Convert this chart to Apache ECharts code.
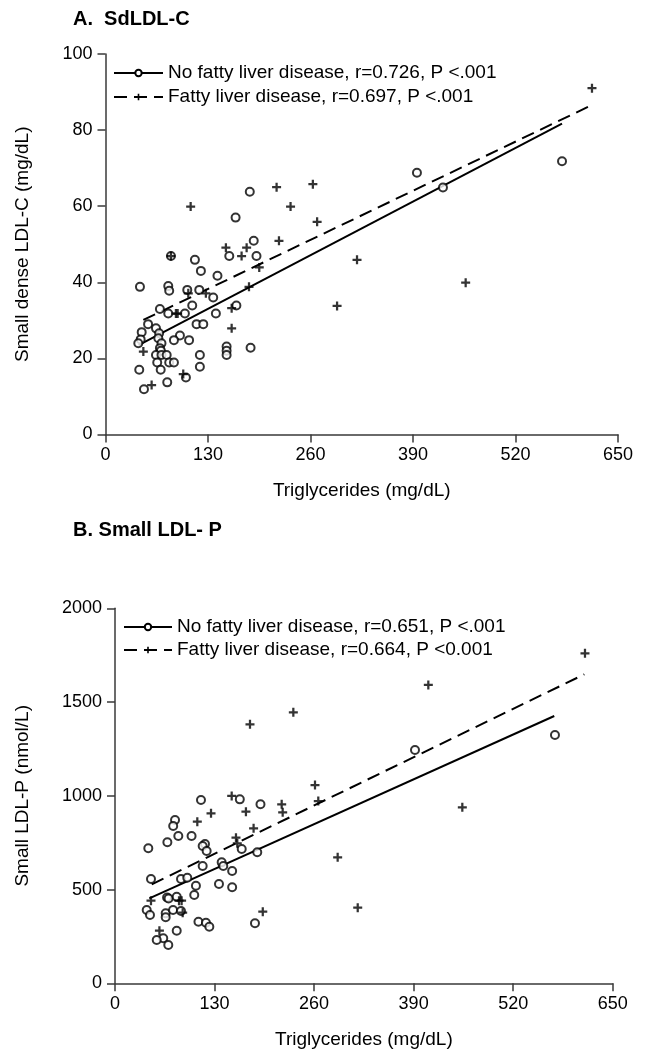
<!DOCTYPE html>
<html>
<head>
<meta charset="utf-8">
<script src="https://cdn.jsdelivr.net/npm/echarts@6/dist/echarts.min.js"></script>
<style>
  html, body { margin: 0; padding: 0; background: #fff; }
  #chart { width: 652px; height: 1056px; }
</style>
</head>
<body>
<div id="chart"></div>
<script>
// x ticks shared by both panels
const xTicks = [0, 130, 260, 390, 520, 650]

// panel A: small dense LDL-C vs triglycerides
const aNoFatty = [
  [183, 63.8], [165, 57], [188, 50.9], [157, 46.9], [191.5, 46.9], [83, 46.9], [113.4, 45.9],
  [121, 43], [142, 41.7], [43.7, 38.8], [79.6, 39], [80.8, 37.8], [103.7, 38], [118.9, 38],
  [136.6, 36], [69, 33], [79.6, 31.8], [100.7, 31.8], [110, 33.9], [140, 31.8], [166, 33.9],
  [54, 29], [64, 27.9], [45.9, 26.9], [68, 26.6], [115.5, 29], [124, 29], [44.6, 25],
  [41.6, 24], [67, 25.3], [71, 24], [94.4, 26], [86.8, 24.8], [106, 24.8], [69, 22.7],
  [70.3, 22], [153.6, 23.1], [153.6, 22], [153.6, 20.9], [184, 22.8], [119.7, 20.9],
  [64, 20.9], [71, 20.9], [77.6, 20.9], [65.6, 18.9], [80.8, 18.9], [86.8, 18.9],
  [119.7, 17.8], [42.8, 17], [70, 17], [102, 15], [48.8, 11.9], [78.3, 13.7],
  [395, 68.8], [428, 64.9], [579, 71.8]
]
const aFatty = [
  [217, 65], [108, 59.9], [234.7, 59.9], [220, 50.9], [152.7, 49.1], [179, 49.1], [172.6, 46.9],
  [83, 46.9], [195, 43.9], [105, 37.1], [127.3, 37.1], [182, 38.8], [89.3, 31.8], [91.5, 31.8],
  [160, 33.2], [160, 27.9], [48, 21.8], [58.5, 13], [98.6, 15.9], [263, 65.8], [268.4, 55.9],
  [319, 45.9], [456.8, 39.9], [293.7, 33.8], [617, 91]
]
const aNoFattyFit = [[42, 23.5], [579, 81.7]]
const aFattyFit = [[48, 30.1], [617, 86.6]]
const aYTicks = [0, 20, 40, 60, 80, 100]

// panel B: small LDL-P vs triglycerides
const bNoFatty = [
  [112.3, 977.6], [163, 981], [190, 954.6], [78.4, 871], [76, 839], [82.7, 785.6], [100, 785.6],
  [68.4, 752], [43.5, 720], [117.5, 743], [114.5, 732], [119.7, 705.6], [165.5, 716],
  [185.8, 698.7], [114.5, 625.6], [139.3, 645], [141.4, 625.6], [153, 599], [47, 556],
  [86.2, 556], [94.4, 563], [105.7, 520.5], [103.5, 471], [135.8, 529.6], [153, 512],
  [68, 458], [70, 452], [80.6, 462], [41.4, 391], [45.7, 364], [66.2, 373], [66.2, 352],
  [75.8, 391], [86.2, 385.6], [109, 328.5], [118.8, 323], [123.2, 302], [80.6, 280.5],
  [63, 240], [54.5, 231], [69.6, 204], [182.8, 320], [391.8, 1244], [574.6, 1324]
]
const bFatty = [
  [152.4, 999], [125.4, 906.7], [171, 915], [217.7, 954.6], [219, 912], [107.5, 862],
  [158, 776.6], [181, 826.7], [159.7, 746.6], [47, 440.5], [83.6, 440.5], [87, 440.5],
  [88.4, 376.5], [193, 382], [58, 280.5], [176.3, 1381], [232.9, 1445], [613.8, 1760],
  [409.2, 1591], [261.2, 1057.6], [265.5, 972], [453.6, 938.7], [290.8, 672], [317, 403]
]
const bNoFattyFit = [[44.8, 453], [573.7, 1425.6]]
const bFattyFit = [[48, 528], [613, 1648]]
const bYTicks = [0, 500, 1000, 1500, 2000]

const legendA = ['No fatty liver disease, r=0.726, P <.001', 'Fatty liver disease, r=0.697, P <.001']
const legendB = ['No fatty liver disease, r=0.651, P <.001', 'Fatty liver disease, r=0.664, P <0.001']

const font = "'Liberation Sans', Arial, sans-serif"
const plusSymbol = 'path://M3,0H5V3H8V5H5V8H3V5H0V3H3Z'
const axisColor = '#3a3a3a'

function xAxis(gridIndex) {
  return {
    type: 'value', gridIndex: gridIndex,
    min: xTicks[0], max: xTicks[xTicks.length - 1], interval: xTicks[1] - xTicks[0],
    name: 'Triglycerides (mg/dL)', nameLocation: 'middle', nameGap: 47,
    nameTextStyle: { fontSize: 19, color: '#000', fontFamily: font },
    axisLine: { lineStyle: { color: axisColor, width: 1.5 } },
    axisTick: { length: 8, lineStyle: { color: axisColor, width: 1.5 } },
    axisLabel: { fontSize: 18, color: '#000', fontFamily: font, margin: 12, formatter: v => String(v) },
    splitLine: { show: false }
  }
}

function yAxis(gridIndex, ticks, name, gap) {
  return {
    type: 'value', gridIndex: gridIndex,
    min: ticks[0], max: ticks[ticks.length - 1], interval: ticks[1] - ticks[0],
    name: name, nameLocation: 'middle', nameGap: gap, nameRotate: 90,
    nameTextStyle: { fontSize: 19, color: '#000', fontFamily: font },
    axisLine: { show: true, lineStyle: { color: axisColor, width: 1.5 } },
    axisTick: { show: true, length: 8, lineStyle: { color: axisColor, width: 1.5 } },
    axisLabel: { fontSize: 18, color: '#000', fontFamily: font, margin: 13, formatter: v => String(v) },
    splitLine: { show: false }
  }
}

function fitLine(name, data, idx, dashed, sym) {
  return {
    name: name, type: 'line', xAxisIndex: idx, yAxisIndex: idx, data: data,
    showSymbol: false, symbol: sym, symbolSize: 8, silent: true,
    itemStyle: { color: '#000' },
    lineStyle: { color: '#000', width: 2, type: dashed ? [13, 7] : 'solid' },
    z: 3
  }
}

function points(name, data, idx, sym, size) {
  return {
    name: name, type: 'scatter', xAxisIndex: idx, yAxisIndex: idx, data: data,
    symbol: sym, symbolSize: size,
    itemStyle: { color: '#000', borderColor: '#000', borderWidth: sym === 'emptyCircle' ? 1.5 : 0 },
    z: 4
  }
}

const chart = echarts.init(document.getElementById('chart'))
const option = {
  backgroundColor: '#fff',
  animation: false,
  textStyle: { fontFamily: font },
  title: [
    { text: 'A.  SdLDL-C', left: 68, top: 4, textStyle: { fontSize: 20, fontWeight: 'bold', color: '#000', fontFamily: font } },
    { text: 'B. Small LDL- P', left: 68, top: 515, textStyle: { fontSize: 20, fontWeight: 'bold', color: '#000', fontFamily: font } }
  ],
  legend: [
    {
      data: legendA, left: 113, top: 63, orient: 'vertical', padding: 0,
      itemWidth: 49, itemHeight: 8, itemGap: 4, selectedMode: false,
      textStyle: { fontSize: 19, color: '#000', lineHeight: 20, fontFamily: font }
    },
    {
      data: legendB, left: 123, top: 617, orient: 'vertical', padding: 0,
      itemWidth: 48, itemHeight: 8, itemGap: 3, selectedMode: false,
      textStyle: { fontSize: 19, color: '#000', lineHeight: 20, fontFamily: font }
    }
  ],
  grid: [
    { left: 105.5, top: 54, width: 512.5, height: 380.5 },
    { left: 115, top: 608.3, width: 497.7, height: 375 }
  ],
  xAxis: [xAxis(0), xAxis(1)],
  yAxis: [
    yAxis(0, aYTicks, 'Small dense LDL-C (mg/dL)', 73),
    yAxis(1, bYTicks, 'Small LDL-P (nmol/L)', 83)
  ],
  series: [
    fitLine(legendA[0], aNoFattyFit, 0, false, 'emptyCircle'),
    fitLine(legendA[1], aFattyFit, 0, true, plusSymbol),
    points('A no fatty liver', aNoFatty, 0, 'emptyCircle', 8),
    points('A fatty liver', aFatty, 0, plusSymbol, 9),
    fitLine(legendB[0], bNoFattyFit, 1, false, 'emptyCircle'),
    fitLine(legendB[1], bFattyFit, 1, true, plusSymbol),
    points('B no fatty liver', bNoFatty, 1, 'emptyCircle', 8),
    points('B fatty liver', bFatty, 1, plusSymbol, 9)
  ]
}
chart.setOption(option)
</script>
</body>
</html>
